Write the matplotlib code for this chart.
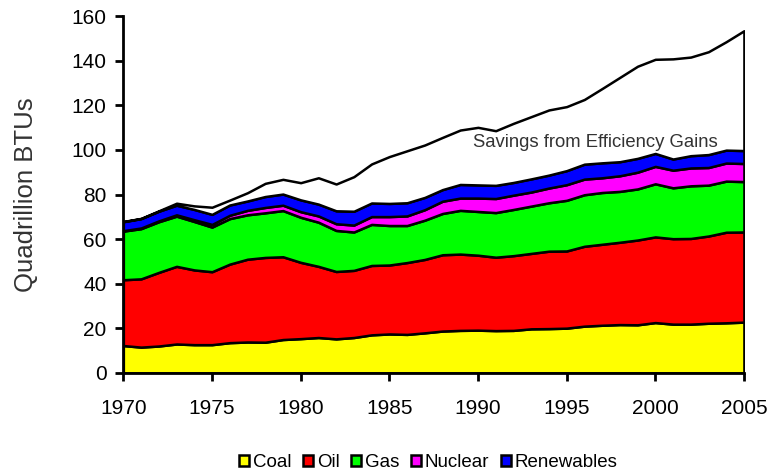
import numpy as np
import matplotlib
matplotlib.use("Agg")
import matplotlib.pyplot as plt

plt.rcParams['font.family'] = ['Liberation Sans', 'DejaVu Sans']

years = np.arange(1970, 2006)

# quadrillion BTU
coal = [12.3, 11.6, 12.1, 13.0, 12.7, 12.7, 13.6, 13.9, 13.8, 15.0, 15.4, 15.9,
        15.3, 15.9, 17.1, 17.5, 17.3, 18.0, 18.8, 19.1, 19.2, 19.0, 19.1, 19.8,
        19.9, 20.1, 21.0, 21.4, 21.7, 21.6, 22.6, 21.9, 21.9, 22.3, 22.5, 22.8]
oil = [29.5, 30.6, 33.0, 34.8, 33.5, 32.7, 35.2, 37.1, 38.0, 37.1, 34.2, 31.9,
       30.2, 30.1, 31.1, 30.9, 32.2, 32.9, 34.2, 34.2, 33.6, 32.9, 33.5, 33.8,
       34.7, 34.6, 35.8, 36.3, 36.9, 38.0, 38.4, 38.3, 38.4, 39.1, 40.6, 40.4]
gas = [21.8, 22.5, 22.7, 22.5, 21.7, 20.0, 20.4, 19.9, 20.0, 20.7, 20.2, 19.8,
       18.4, 17.2, 18.4, 17.7, 16.6, 17.6, 18.5, 19.6, 19.6, 20.0, 20.7, 21.2,
       21.7, 22.7, 23.1, 23.2, 22.8, 22.9, 23.8, 22.8, 23.6, 22.8, 22.9, 22.6]
nuclear = [0.2, 0.3, 0.4, 0.6, 0.8, 1.2, 1.5, 2.0, 2.4, 2.4, 2.5, 2.8,
           3.0, 3.1, 3.5, 4.0, 4.3, 4.7, 5.5, 5.5, 6.0, 6.3, 6.4, 6.3,
           6.6, 7.0, 7.0, 6.6, 7.0, 7.5, 7.8, 7.9, 8.0, 7.9, 8.1, 8.1]
renewables = [4.0, 4.2, 4.3, 4.3, 4.6, 4.5, 4.6, 4.2, 4.9, 5.0, 5.3, 5.3,
              5.8, 6.2, 6.1, 5.9, 5.9, 5.5, 5.2, 6.1, 5.9, 5.9, 5.7, 5.9,
              5.8, 6.3, 6.7, 6.7, 6.3, 6.2, 5.8, 5.0, 5.5, 5.8, 5.8, 5.8]
# demand without efficiency gains
no_savings = [67.9, 69.3, 72.7, 76.1, 74.9, 74.3, 77.5, 80.8, 85.0, 86.8, 85.3, 87.5,
              84.7, 88.0, 93.7, 97.0, 99.6, 102.2, 105.6, 108.9, 110.1, 108.6, 111.9, 114.9,
              117.9, 119.4, 122.6, 127.5, 132.5, 137.5, 140.6, 140.8, 141.6, 144.0, 148.5, 153.4]

names = ['Coal', 'Oil', 'Gas', 'Nuclear', 'Renewables']
colors = ['#ffff00', '#ff0000', '#00ff00', '#ff00ff', '#0000ff']

fig = plt.figure(figsize=(7.69, 4.74), dpi=100)
ax = fig.add_axes([0.1604, 0.2131, 0.807, 0.7531])

bottom = np.zeros(len(years))
handles = []
for vals, name, c in zip([coal, oil, gas, nuclear, renewables], names, colors):
    top = bottom + np.array(vals)
    h = ax.fill_between(years, bottom, top, facecolor=c, edgecolor='black',
                        linewidth=1.8, label=name)
    handles.append(h)
    bottom = top

ax.fill_between(years, bottom, no_savings, facecolor='white', edgecolor='black',
                linewidth=1.8)
ax.text(1996.6, 103.2, 'Savings from Efficiency Gains', ha='center', va='center',
        fontsize=13.3, color='#333333')

ax.set_xlim(1970, 2005)
ax.set_ylim(0, 160)
ax.set_xticks(range(1970, 2006, 5))
ax.set_yticks(range(0, 161, 20))
ax.spines['top'].set_visible(False)
ax.spines['right'].set_visible(False)
ax.spines['left'].set_linewidth(2)
ax.spines['bottom'].set_linewidth(2)
ax.tick_params(direction='out', length=6, width=2, labelsize=15, colors='black')
ax.tick_params(axis='x', pad=13)
ax.tick_params(axis='y', pad=6)
ax.set_ylabel('Quadrillion BTUs', fontsize=18.5, color='#333333')
ax.yaxis.set_label_coords(-0.138, 0.5)

fig.legend(handles=handles, loc='center', bbox_to_anchor=(0.557, 0.024), ncol=5,
           frameon=False, fontsize=13.5, handlelength=0.55, handleheight=0.55,
           handletextpad=0.2, columnspacing=0.6, borderaxespad=0)

fig.savefig('out.png', dpi=100)
